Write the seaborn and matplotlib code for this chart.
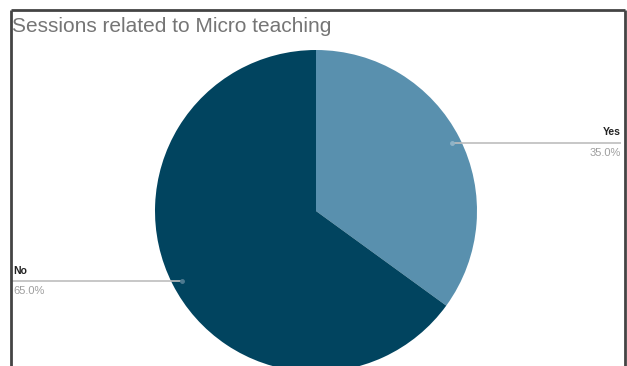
import matplotlib
matplotlib.use("Agg")
import matplotlib.pyplot as plt
import seaborn as sns

# Survey answers
categories = ["Yes", "No"]
shares = [35.0, 65.0]
slice_colors = ["#5990ae", "#01445f"]
title_text = "Sessions related to Micro teaching"

sns.set_theme(style="white")
plt.rcParams["font.family"] = ["Liberation Sans", "DejaVu Sans"]

W, H = 627, 366
fig = plt.figure(figsize=(W / 100, H / 100), dpi=100)
ax = fig.add_axes([0, 0, 1, 1])
ax.set_xlim(0, W)
ax.set_ylim(0, H)
ax.set_aspect("equal")
ax.axis("off")

def py(y):
    # convert a top-down pixel row to axis units
    return H - y

cx, cy, r = 316, 211, 161
ax.pie(shares, colors=slice_colors, startangle=90, counterclock=False,
       center=(cx, py(cy)), radius=r, wedgeprops=dict(linewidth=0))
ax.set_xlim(0, W)
ax.set_ylim(0, H)

# leader lines with labels
label_color = "#222222"
pct_color = "#9e9e9e"
line_color = "#bdbdbd"

# Yes (right side)
ax.plot([452, 621], [py(143), py(143)], color=line_color, lw=1.2, solid_capstyle="butt")
ax.plot([452], [py(143)], "o", ms=2.5, color="#8fb3c7")
ax.text(621, py(137), f"{categories[0]}", ha="right", va="bottom",
        fontsize=7.5, fontweight="bold", color=label_color)
ax.text(621, py(148), f"{shares[0]:.1f}%", ha="right", va="top",
        fontsize=8, color=pct_color)

# No (left side)
ax.plot([12, 182], [py(281), py(281)], color=line_color, lw=1.2, solid_capstyle="butt")
ax.plot([182], [py(281)], "o", ms=2.5, color="#4d7a90")
ax.text(13, py(276), f"{categories[1]}", ha="left", va="bottom",
        fontsize=7.5, fontweight="bold", color=label_color)
ax.text(13, py(286), f"{shares[1]:.1f}%", ha="left", va="top",
        fontsize=8, color=pct_color)

# title
ax.text(12, py(26), title_text, ha="left", va="center", fontsize=15, color="#757575")

# frame around the chart
frame = "#444444"
ax.plot([10.5, 10.5], [py(9.5), 0], color=frame, lw=2, solid_capstyle="butt")
ax.plot([10.5, 624.5], [py(9.5), py(9.5)], color=frame, lw=2, solid_capstyle="butt")
ax.plot([624.5, 624.5], [py(9.5), 0], color=frame, lw=2, solid_capstyle="butt")

fig.savefig("out.png", dpi=100)
